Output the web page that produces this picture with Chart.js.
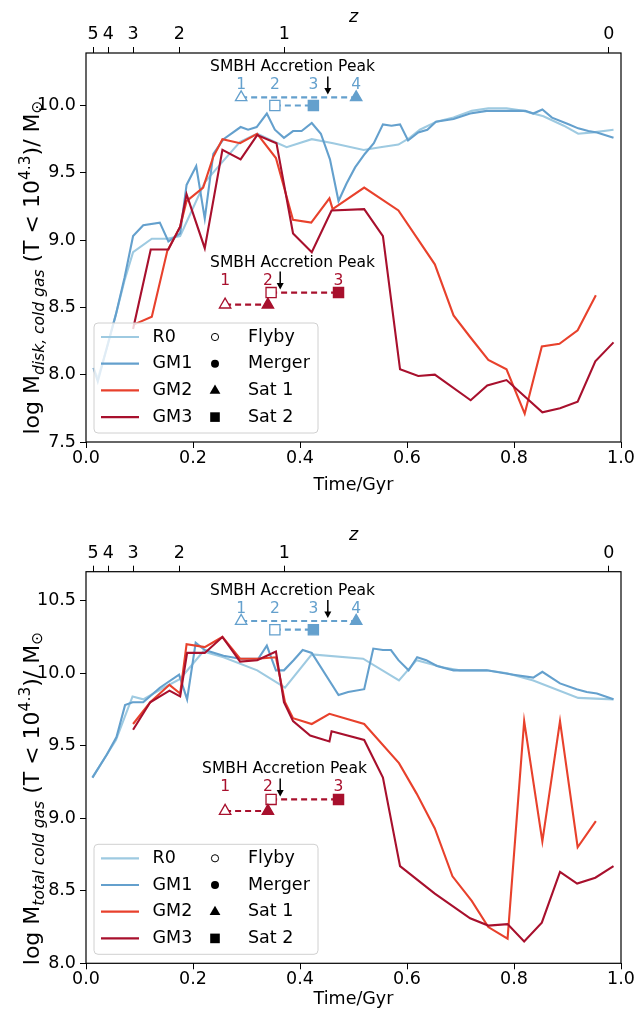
<!DOCTYPE html>
<html>
<head>
<meta charset="utf-8">
<script src="https://cdn.jsdelivr.net/npm/chart.js@4.4.0/dist/chart.umd.min.js"></script>
<style>
  body { margin: 0; background: #ffffff; }
  canvas { display: block; }
</style>
</head>
<body>
<canvas id="disk-chart" width="637" height="505"></canvas>
<canvas id="total-chart" width="637" height="505"></canvas>
<script>
// axis ticks
const timeTicks = [0.0, 0.2, 0.4, 0.6, 0.8, 1.0];
const zTickTimes = [0.0133, 0.0417, 0.0880, 0.1742, 0.3708, 0.9770];
const zTickLabels = ['5', '4', '3', '2', '1', '0'];
const diskTicks = [7.5, 8.0, 8.5, 9.0, 9.5, 10.0];
const totalTicks = [8.0, 8.5, 9.0, 9.5, 10.0, 10.5];

const runNames = ['R0', 'GM1', 'GM2', 'GM3'];
const eventNames = ['Flyby', 'Merger', 'Sat 1', 'Sat 2'];

// disk cold gas mass, [time, log M]
const diskR0 = [[0.014,8.05],[0.022,7.97],[0.039,8.2],[0.056,8.45],[0.072,8.7],[0.088,8.91],[0.123,9.01],[0.152,9.01],[0.176,9.03],[0.222,9.43],[0.257,9.59],[0.288,9.73],[0.320,9.79],[0.347,9.74],[0.375,9.69],[0.422,9.75],[0.462,9.72],[0.519,9.67],[0.550,9.69],[0.584,9.71],[0.605,9.76],[0.624,9.82],[0.655,9.88],[0.687,9.91],[0.721,9.96],[0.752,9.98],[0.786,9.98],[0.818,9.96],[0.855,9.92],[0.893,9.85],[0.920,9.79],[0.948,9.80],[0.986,9.82]];
const diskGM1 = [[0.014,8.05],[0.022,7.95],[0.039,8.2],[0.056,8.45],[0.072,8.72],[0.088,9.03],[0.107,9.11],[0.138,9.13],[0.154,8.99],[0.176,9.05],[0.188,9.41],[0.206,9.55],[0.222,9.16],[0.238,9.64],[0.257,9.75],[0.289,9.84],[0.303,9.82],[0.319,9.84],[0.338,9.94],[0.353,9.82],[0.370,9.76],[0.387,9.81],[0.403,9.81],[0.422,9.87],[0.439,9.79],[0.456,9.60],[0.472,9.29],[0.487,9.42],[0.503,9.54],[0.521,9.64],[0.538,9.72],[0.555,9.86],[0.571,9.85],[0.587,9.86],[0.602,9.74],[0.621,9.80],[0.638,9.82],[0.654,9.88],[0.687,9.90],[0.718,9.94],[0.749,9.96],[0.783,9.96],[0.821,9.96],[0.836,9.94],[0.853,9.97],[0.871,9.91],[0.902,9.86],[0.920,9.83],[0.939,9.81],[0.955,9.80],[0.986,9.76]];
const diskGM2 = [[0.088,8.37],[0.123,8.43],[0.152,8.92],[0.176,9.10],[0.188,9.29],[0.219,9.39],[0.238,9.62],[0.255,9.75],[0.288,9.72],[0.320,9.79],[0.355,9.61],[0.387,9.15],[0.421,9.13],[0.455,9.31],[0.461,9.23],[0.520,9.39],[0.584,9.22],[0.618,9.02],[0.652,8.82],[0.687,8.44],[0.718,8.28],[0.752,8.11],[0.786,8.04],[0.820,7.71],[0.852,8.21],[0.885,8.23],[0.919,8.33],[0.953,8.59]];
const diskGM3 = [[0.088,8.34],[0.121,8.93],[0.154,8.93],[0.176,9.10],[0.188,9.34],[0.222,8.94],[0.255,9.67],[0.289,9.60],[0.320,9.78],[0.356,9.72],[0.387,9.05],[0.422,8.91],[0.459,9.22],[0.520,9.23],[0.555,9.03],[0.587,8.04],[0.621,7.99],[0.652,8.00],[0.719,7.81],[0.750,7.92],[0.786,7.96],[0.853,7.72],[0.886,7.75],[0.919,7.80],[0.952,8.10],[0.986,8.24]];

// total cold gas mass, [time, log M]
const totalR0 = [[0.012,9.28],[0.039,9.44],[0.056,9.54],[0.087,9.84],[0.107,9.82],[0.145,9.90],[0.176,9.96],[0.219,10.15],[0.257,10.11],[0.320,10.02],[0.372,9.90],[0.422,10.13],[0.518,10.10],[0.585,9.95],[0.618,10.09],[0.668,10.04],[0.699,10.02],[0.749,10.02],[0.787,10.00],[0.836,9.95],[0.920,9.83],[0.986,9.82]];
const totalGM1 = [[0.012,9.28],[0.039,9.44],[0.057,9.56],[0.073,9.78],[0.087,9.80],[0.107,9.80],[0.138,9.90],[0.174,9.99],[0.189,9.82],[0.205,10.21],[0.222,10.16],[0.257,10.12],[0.288,10.10],[0.322,10.10],[0.338,10.19],[0.355,10.02],[0.370,10.02],[0.388,10.09],[0.405,10.16],[0.422,10.14],[0.472,9.85],[0.490,9.87],[0.520,9.89],[0.537,10.17],[0.555,10.16],[0.570,10.16],[0.584,10.09],[0.603,10.02],[0.619,10.11],[0.636,10.09],[0.656,10.05],[0.687,10.02],[0.749,10.02],[0.799,9.99],[0.836,9.97],[0.853,10.01],[0.886,9.93],[0.917,9.89],[0.936,9.87],[0.955,9.86],[0.986,9.82]];
const totalGM2 = [[0.088,9.65],[0.120,9.80],[0.156,9.92],[0.176,9.86],[0.188,10.20],[0.222,10.18],[0.255,10.25],[0.288,10.10],[0.319,10.10],[0.355,10.11],[0.372,9.80],[0.387,9.69],[0.422,9.65],[0.455,9.72],[0.520,9.65],[0.585,9.38],[0.618,9.17],[0.652,8.93],[0.685,8.60],[0.721,8.43],[0.752,8.25],[0.788,8.17],[0.819,9.67],[0.853,8.84],[0.886,9.67],[0.919,8.80],[0.953,8.98]];
const totalGM3 = [[0.088,9.61],[0.120,9.80],[0.156,9.88],[0.176,9.84],[0.189,10.14],[0.222,10.14],[0.255,10.25],[0.288,10.08],[0.320,10.09],[0.355,10.15],[0.370,9.80],[0.387,9.67],[0.419,9.57],[0.455,9.53],[0.459,9.60],[0.520,9.54],[0.555,9.28],[0.587,8.67],[0.652,8.48],[0.718,8.31],[0.752,8.26],[0.788,8.27],[0.819,8.15],[0.852,8.28],[0.886,8.63],[0.918,8.55],[0.952,8.59],[0.986,8.67]];

// satellite encounters: [flyby, merger] times, and SMBH accretion peak
const gm1Sat1 = [0.290, 0.505];
const gm1Sat2 = [0.353, 0.425];
const gm1Peak = 0.452;
const gm3Sat1 = [0.260, 0.340];
const gm3Sat2 = [0.346, 0.472];
const gm3Peak = 0.363;

const ink = '#000000';
const runColors = ['#9ecae1', '#64a0cd', '#e8412c', '#a8102d'];
const FONT = '"DejaVu Sans", sans-serif';

function seriesLine(label, points, color, order) {
    return {
        label: label,
        data: points.map(p => ({ x: p[0], y: p[1] })),
        borderColor: color,
        borderWidth: 2.1,
        pointRadius: 0,
        fill: false,
        tension: 0,
        order: order
    };
}

// dashed line joining flyby (open) and merger (filled) markers
function eventRow(times, y, style, color) {
    return {
        data: times.map(t => ({ x: t, y: y })),
        borderColor: color,
        borderWidth: 2.2,
        borderDash: [6, 4],
        pointStyle: style,
        pointRadius: style === 'rect' ? 7.2 : 6.6,
        pointBorderWidth: 1.3,
        pointBorderColor: color,
        pointBackgroundColor: ['#ffffff', color],
        order: 0
    };
}

const framePlugin = {
    id: 'frame',
    afterDraw(chart) {
        const { ctx, chartArea: a } = chart;
        ctx.save();
        ctx.strokeStyle = ink;
        ctx.lineWidth = 1.2;
        ctx.strokeRect(a.left, a.top, a.right - a.left, a.bottom - a.top);
        ctx.restore();
    }
};

// "SMBH Accretion Peak" labels, arrows and numbered encounters
const notesPlugin = {
    id: 'notes',
    afterDatasetsDraw(chart, args, opts) {
        const { ctx, scales: { x, y } } = chart;
        opts.groups.forEach(g => {
            const top = y.getPixelForValue(g.rowTop);
            ctx.save();
            ctx.textAlign = 'center';
            ctx.textBaseline = 'middle';
            ctx.font = '15.5px ' + FONT;
            ctx.fillStyle = ink;
            ctx.fillText('SMBH Accretion Peak', x.getPixelForValue(g.textAt), top - 30);
            ctx.fillStyle = g.color;
            g.numbered.forEach((t, i) => {
                ctx.fillText(String(i + 1), x.getPixelForValue(t), top - 12);
            });
            const ax = x.getPixelForValue(g.peak);
            ctx.strokeStyle = ink;
            ctx.lineWidth = 1.5;
            ctx.beginPath();
            ctx.moveTo(ax, top - 21);
            ctx.lineTo(ax, top - 8);
            ctx.stroke();
            ctx.fillStyle = ink;
            ctx.beginPath();
            ctx.moveTo(ax - 3.5, top - 9.5);
            ctx.lineTo(ax + 3.5, top - 9.5);
            ctx.lineTo(ax, top - 3);
            ctx.closePath();
            ctx.fill();
            ctx.restore();
        });
    }
};

function drawMarker(ctx, kind, cx, cy) {
    ctx.beginPath();
    if (kind === 0) {
        ctx.arc(cx, cy, 3.6, 0, Math.PI * 2);
        ctx.lineWidth = 1;
        ctx.stroke();
        return;
    }
    if (kind === 1) {
        ctx.arc(cx, cy, 4, 0, Math.PI * 2);
    } else if (kind === 2) {
        ctx.moveTo(cx, cy - 6);
        ctx.lineTo(cx + 5.4, cy + 3.4);
        ctx.lineTo(cx - 5.4, cy + 3.4);
        ctx.closePath();
    } else {
        ctx.rect(cx - 4.8, cy - 4.8, 9.6, 9.6);
    }
    ctx.fill();
}

// two-column legend: runs on the left, marker meaning on the right
const keyPlugin = {
    id: 'key',
    afterDatasetsDraw(chart) {
        const { ctx, chartArea: a } = chart;
        const w = 224, h = 110;
        const bx = a.left + 8, by = a.bottom - 9 - h;
        ctx.save();
        ctx.beginPath();
        ctx.roundRect(bx, by, w, h, 4);
        ctx.fillStyle = 'rgba(255,255,255,0.8)';
        ctx.fill();
        ctx.strokeStyle = '#d0d0d0';
        ctx.lineWidth = 1;
        ctx.stroke();
        ctx.font = '17.5px ' + FONT;
        ctx.textBaseline = 'middle';
        ctx.textAlign = 'left';
        runNames.forEach((name, i) => {
            const cy = by + 14 + i * 26.7;
            ctx.strokeStyle = runColors[i];
            ctx.lineWidth = 2.2;
            ctx.beginPath();
            ctx.moveTo(bx + 7, cy);
            ctx.lineTo(bx + 45, cy);
            ctx.stroke();
            ctx.fillStyle = ink;
            ctx.fillText(name, bx + 58.5, cy);
            ctx.strokeStyle = ink;
            drawMarker(ctx, i, bx + 121, cy);
            ctx.fillText(eventNames[i], bx + 154, cy);
        });
        ctx.restore();
    }
};

// rotated y title with sub- and superscripts
const yTitlePlugin = {
    id: 'yTitle',
    afterDraw(chart, args, opts) {
        const { ctx, chartArea: a } = chart;
        const big = '22px ' + FONT, small = '15.5px ' + FONT, smallIt = 'italic 15.5px ' + FONT;
        const parts = [
            { t: 'log M', f: big, dy: 0 },
            { t: opts.sub, f: smallIt, dy: 5 },
            { t: ' (T < 10', f: big, dy: 0 },
            { t: '4.3', f: small, dy: -9.5 },
            { t: ')/ M', f: big, dy: 0 },
            { t: '\u2299', f: small, dy: 3 }
        ];
        ctx.save();
        let total = 0;
        parts.forEach(p => { ctx.font = p.f; p.w = ctx.measureText(p.t).width; total += p.w; });
        ctx.translate(opts.x, (a.top + a.bottom) / 2 + opts.shift);
        ctx.rotate(-Math.PI / 2);
        ctx.fillStyle = ink;
        ctx.textBaseline = 'alphabetic';
        ctx.textAlign = 'left';
        let pos = -total / 2;
        parts.forEach(p => { ctx.font = p.f; ctx.fillText(p.t, pos, p.dy); pos += p.w; });
        ctx.restore();
    }
};

function makeChart(canvasId, cfg) {
    const tickFont = { family: FONT, size: 17.5 };
    const tickGrid = { display: true, drawOnChartArea: false, drawTicks: true, tickLength: 6, color: ink, lineWidth: 1 };
    return new Chart(document.getElementById(canvasId).getContext('2d'), {
        type: 'line',
        data: {
            datasets: [
                seriesLine('R0', cfg.series[0], runColors[0], 4),
                seriesLine('GM1', cfg.series[1], runColors[1], 3),
                seriesLine('GM2', cfg.series[2], runColors[2], 2),
                seriesLine('GM3', cfg.series[3], runColors[3], 1),
                eventRow(gm1Sat1, cfg.blueRows[0], 'triangle', runColors[1]),
                eventRow(gm1Sat2, cfg.blueRows[1], 'rect', runColors[1]),
                eventRow(gm3Sat1, cfg.redRows[0], 'triangle', runColors[3]),
                eventRow(gm3Sat2, cfg.redRows[1], 'rect', runColors[3])
            ]
        },
        options: {
            responsive: false,
            animation: false,
            events: [],
            layout: { padding: { left: 0, right: 16, top: cfg.padTop, bottom: 0 } },
            plugins: {
                legend: { display: false },
                tooltip: { enabled: false },
                notes: {
                    groups: [
                        { rowTop: Math.max(...cfg.blueRows), textAt: 0.386, peak: gm1Peak, color: runColors[1],
                          numbered: [gm1Sat1[0], gm1Sat2[0], gm1Sat2[1], gm1Sat1[1]] },
                        { rowTop: Math.max(...cfg.redRows), textAt: cfg.redTextAt, peak: gm3Peak, color: runColors[3],
                          numbered: [gm3Sat1[0], gm3Sat1[1], gm3Sat2[1]] }
                    ]
                },
                yTitle: { sub: cfg.sub, x: 39, shift: cfg.titleShift }
            },
            scales: {
                x: {
                    type: 'linear',
                    position: 'bottom',
                    min: 0, max: 1,
                    afterBuildTicks: s => { s.ticks = timeTicks.map(v => ({ value: v })); },
                    afterFit: s => { s.height = cfg.bottomHeight; },
                    ticks: { font: tickFont, color: ink, padding: 0, maxRotation: 0, autoSkip: false,
                             callback: v => v.toFixed(1) },
                    grid: tickGrid,
                    border: { display: false },
                    title: { display: true, text: 'Time/Gyr', font: tickFont, color: ink,
                             padding: { top: 0, bottom: cfg.titlePad } }
                },
                z: {
                    type: 'linear',
                    position: 'top',
                    axis: 'x',
                    min: 0, max: 1,
                    afterBuildTicks: s => { s.ticks = zTickTimes.map(v => ({ value: v })); },
                    afterFit: s => { s.height = 53; },
                    ticks: { font: tickFont, color: ink, padding: 2, maxRotation: 0, autoSkip: false,
                             callback: (v, i) => zTickLabels[i] },
                    grid: tickGrid,
                    border: { display: false },
                    title: { display: true, text: 'z', font: { family: FONT, size: 17.5, style: 'italic' }, color: ink,
                             padding: { top: 6.5, bottom: 0 } }
                },
                y: {
                    type: 'linear',
                    min: cfg.yMin, max: cfg.yMax,
                    afterBuildTicks: s => { s.ticks = cfg.yTicks.map(v => ({ value: v })); },
                    afterFit: s => { s.width = 86; },
                    ticks: { font: tickFont, color: ink, padding: 4, callback: v => v.toFixed(1) },
                    grid: tickGrid,
                    border: { display: false }
                }
            }
        },
        plugins: [notesPlugin, keyPlugin, framePlugin, yTitlePlugin]
    });
}

makeChart('disk-chart', {
    series: [diskR0, diskGM1, diskGM2, diskGM3],
    yMin: 7.5, yMax: 10.39, yTicks: diskTicks,
    blueRows: [10.06, 10.0], redRows: [8.52, 8.61], redTextAt: 0.386,
    sub: 'disk, cold gas', titleShift: 20,
    padTop: 0, bottomHeight: 63, titlePad: 9.5
});

makeChart('total-chart', {
    series: [totalR0, totalGM1, totalGM2, totalGM3],
    yMin: 8.0, yMax: 10.70, yTicks: totalTicks,
    blueRows: [10.36, 10.30], redRows: [9.05, 9.13], redTextAt: 0.371,
    sub: 'total cold gas', titleShift: 31,
    padTop: 13.7, bottomHeight: 46.7, titlePad: 0.5
});
</script>
</body>
</html>
